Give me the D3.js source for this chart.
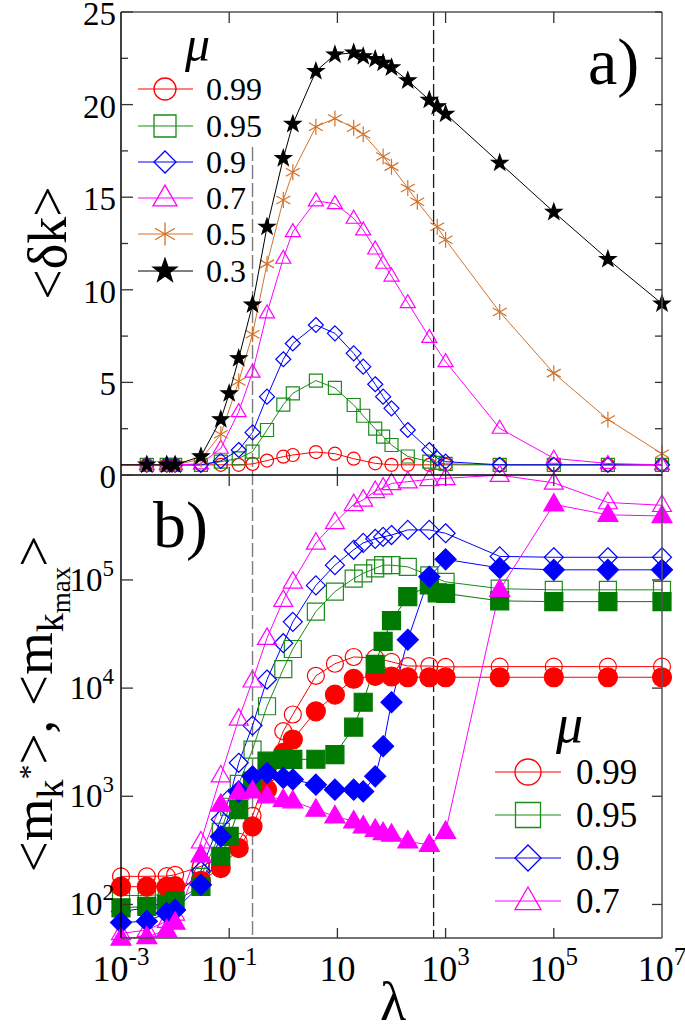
<!DOCTYPE html>
<html>
<head>
<meta charset="utf-8">
<script src="https://cdn.jsdelivr.net/npm/d3@7"></script>
<style>
  html, body { margin: 0; padding: 0; background: #fff; }
  svg { display: block; }
  svg text { font-family: "Liberation Serif", "Times New Roman", "DejaVu Serif", serif; }
</style>
</head>
<body>
<svg id="chart" width="685" height="1031"></svg>
<script>
// ---------------- DATA ----------------
const lambda = [0.001, 0.003, 0.007, 0.01, 0.03, 0.07, 0.1, 0.15, 0.27, 0.5, 1, 1.5, 4, 9, 20, 30, 50, 70, 100, 200, 300, 500, 700, 1000, 1e4, 1e5, 1e6, 1e7];

// panel a) <δk>
const muTop = ["0.99", "0.95", "0.9", "0.7", "0.5", "0.3"];
const dk099 = [0.55,0.55,0.55,0.55,0.55,0.55,null,0.55,0.6,0.78,0.99,1.08,1.24,1.15,0.88,null,0.63,null,0.55,0.55,null,0.55,null,0.55,0.55,0.55,0.55,0.55];
const dk095 = [0.55,0.55,0.55,0.55,0.55,0.72,null,0.9,1.26,2.43,3.8,4.41,5.1,4.7,3.78,3.2,2.5,2.07,1.62,1.0,null,0.72,0.65,0.6,0.55,0.55,0.55,0.55];
const dk09  = [0.55,0.55,0.55,0.55,0.55,0.76,null,1.35,2.3,4.23,6.25,7.1,8.1,7.65,6.57,5.85,4.9,4.23,3.6,2.43,null,1.35,0.9,0.72,0.55,0.55,0.55,0.55];
const dk07  = [0.55,0.55,0.55,0.55,0.6,1.44,null,3.42,5.55,8.75,11.7,13.14,14.8,14.65,13.86,13.23,12.2,11.43,10.74,9.3,null,7.43,null,6.12,2.52,0.9,0.62,0.55];
const dk05  = [0.55,0.55,0.55,0.55,0.85,2.2,null,5.05,7.6,11.4,14.85,16.35,18.8,19.25,18.75,18.4,null,17.2,16.65,15.5,14.76,null,13.4,12.7,8.8,5.5,3.0,1.15];
const dk03  = [0.55,0.55,0.55,0.55,1.0,3.0,4.4,6.3,9.2,13.4,17.1,18.95,21.8,22.7,22.8,22.6,22.45,22.25,22.0,21.3,null,20.25,19.9,19.5,16.85,14.2,11.65,9.25];

// panel b) <m_kmax> (open) and <m_k*> (filled)
const muBottom = ["0.99", "0.95", "0.9", "0.7"];
const mmax099  = [182,182,183,188,225,270,null,380,660,1600,4000,5700,13000,16800,19400,null,19000,null,17500,16000,null,16000,null,15700,15800,15800,15800,15800];
const mstar099 = [146,146,146,148,165,217,null,332,527,1150,2520,3350,6100,8700,12200,null,13000,null,12800,12600,null,12600,null,12600,12600,12600,12600,12600];
const mmax095  = [121,121,124,131,180,470,800,1300,2700,6800,15000,23000,51000,78000,103000,115000,128000,137000,137000,132000,null,110000,null,96000,83000,81000,81000,81000];
const mstar095 = [93,96,100,108,147,278,426,753,1380,2110,2190,2190,2200,2430,4350,7400,16600,27000,42000,70000,null,90000,76000,75000,64000,63000,63000,63000];
const mmax09   = [86,93,108,116,205,610,950,2040,4500,12000,26000,41000,89000,137000,190000,220000,240000,250000,260000,290000,null,290000,null,270000,165000,162000,162000,162000];
const mstar09  = [68,70,83,89,152,426,null,1110,1530,1640,1480,1430,1280,1150,1150,1110,1530,2900,7400,28000,null,107000,null,155000,129000,124000,124000,124000];
const mmax07   = [54,58,70,82,380,1550,null,5200,11700,29000,65000,96000,220000,340000,500000,550000,660000,710000,780000,810000,null,850000,null,870000,930000,790000,520000,490000];
const mstar07  = [48.5,50,58,68,285,838,null,1080,1110,1000,930,900,753,653,587,527,490,458,442,383,null,355,null,470,81000,500000,400000,390000];

const dashedLambda = [0.27, 600];
const xTicks = [1e-3, 1e-1, 1e1, 1e3, 1e5, 1e7];
const xTickLabels = [["10","-3"], ["10","-1"], ["10",""], ["10","3"], ["10","5"], ["10","7"]];
const yTopTicks = [0, 5, 10, 15, 20, 25];
const yTopMinor = [2.5, 7.5, 12.5, 17.5, 22.5];
const yBotTicks = [1e2, 1e3, 1e4, 1e5];
const yBotTickLabels = [["10","2"], ["10","3"], ["10","4"], ["10","5"]];

// ---------------- LAYOUT ----------------
const svg = d3.select("#chart");
const L = 121, R = 662, T = 12, M = 475, B = 938;
const x = d3.scaleLog().domain([1e-3, 1e7]).range([L, R]);
const yTop = d3.scaleLinear().domain([0, 25]).range([M, T]);
const yBot = d3.scaleLog().domain([Math.pow(10, 1.69), Math.pow(10, 5.97)]).range([B, M]);

const C = { red: "#ff0000", green: "#1a8c1a", dgreen: "#007a00", blue: "#0000ff", mag: "#ff00ff", orange: "#d2722a", black: "#000" };

function sym(type, r) {
  const c30 = Math.cos(Math.PI / 6);
  switch (type) {
    case "circle": return `M${r},0A${r},${r} 0 1,1 ${-r},0A${r},${r} 0 1,1 ${r},0Z`;
    case "square": return `M${-r},${-r}H${r}V${r}H${-r}Z`;
    case "diamond": return `M0,${-r}L${r},0L0,${r}L${-r},0Z`;
    case "triangle": { const h = r * Math.sqrt(3); return `M0,${-h * 0.62}L${r},${h * 0.38}L${-r},${h * 0.38}Z`; }
    case "asterisk": return `M0,${-r}L0,${r}M${-r * c30},${-r / 2}L${r * c30},${r / 2}M${-r * c30},${r / 2}L${r * c30},${-r / 2}`;
    case "star": {
      let p = "";
      for (let i = 0; i < 10; i++) {
        const a = -Math.PI / 2 + i * Math.PI / 5;
        const rr = i % 2 === 0 ? r : r * 0.4;
        p += (i === 0 ? "M" : "L") + (rr * Math.cos(a)).toFixed(2) + "," + (rr * Math.sin(a)).toFixed(2);
      }
      return p + "Z";
    }
  }
}
function txt(g) { return g.append("text").attr("fill", "#000"); }

// ---------------- DASHED GUIDES ----------------
svg.append("line").attr("x1", x(dashedLambda[0])).attr("x2", x(dashedLambda[0]))
  .attr("y1", 147).attr("y2", B).attr("stroke", "#7a7a7a").attr("stroke-width", 1.4).attr("stroke-dasharray", "14,4");
svg.append("line").attr("x1", x(dashedLambda[1])).attr("x2", x(dashedLambda[1]))
  .attr("y1", T).attr("y2", B).attr("stroke", "#1a1a1a").attr("stroke-width", 1.3).attr("stroke-dasharray", "14,4");

// ---------------- PANEL A ----------------
const topSeries = [
  { vals: dk099, color: C.red, type: "circle", r: 6.5, fill: "none" },
  { vals: dk095, color: C.green, type: "square", r: 6.5, fill: "none" },
  { vals: dk09, color: C.blue, type: "diamond", r: 7.5, fill: "none" },
  { vals: dk07, color: C.mag, type: "triangle", r: 7.5, fill: "none" },
  { vals: dk05, color: C.orange, type: "asterisk", r: 8, fill: "none" },
  { vals: dk03, color: C.black, type: "star", r: 8.5, fill: C.black }
];
const topLegendR = [11, 11, 11, 12, 11.5, 12.5];

const gA = svg.append("g");
const lineTop = d3.line().x(d => x(d.x)).y(d => yTop(d.y));
topSeries.forEach(s => {
  const pts = lambda.map((l, i) => ({ x: l, y: s.vals[i] })).filter(d => d.y != null);
  gA.append("path").attr("d", lineTop(pts)).attr("fill", "none").attr("stroke", s.color).attr("stroke-width", 1);
  gA.selectAll(null).data(pts.filter(d => d.x > 1e-3)).enter().append("path")
    .attr("d", sym(s.type, s.r)).attr("transform", d => `translate(${x(d.x)},${yTop(d.y)})`)
    .attr("fill", s.fill).attr("stroke", s.color).attr("stroke-width", 1.2);
});

// ---------------- PANEL B ----------------
const botSeries = [
  { vals: mmax099, color: C.red, type: "circle", r: 8.5, fill: "none" },
  { vals: mmax095, color: C.green, type: "square", r: 8.5, fill: "none" },
  { vals: mmax09, color: C.blue, type: "diamond", r: 9.5, fill: "none" },
  { vals: mmax07, color: C.mag, type: "triangle", r: 9.5, fill: "none" },
  { vals: mstar099, color: C.red, type: "circle", r: 9.5, fill: C.red },
  { vals: mstar095, color: C.dgreen, type: "square", r: 9, fill: C.dgreen },
  { vals: mstar09, color: C.blue, type: "diamond", r: 10.5, fill: C.blue },
  { vals: mstar07, color: C.mag, type: "triangle", r: 10, fill: C.mag }
];
const gB = svg.append("g");
const lineBot = d3.line().x(d => x(d.x)).y(d => yBot(d.y));
botSeries.forEach(s => {
  const pts = lambda.map((l, i) => ({ x: l, y: s.vals[i] })).filter(d => d.y != null);
  gB.append("path").attr("d", lineBot(pts)).attr("fill", "none").attr("stroke", s.color).attr("stroke-width", 1);
});
botSeries.forEach(s => {
  const pts = lambda.map((l, i) => ({ x: l, y: s.vals[i] })).filter(d => d.y != null);
  gB.selectAll(null).data(pts).enter().append("path")
    .attr("d", sym(s.type, s.r)).attr("transform", d => `translate(${x(d.x)},${yBot(d.y)})`)
    .attr("fill", s.fill).attr("stroke", s.color).attr("stroke-width", 1.2);
});

// ---------------- FRAMES & TICKS ----------------
const ax = svg.append("g").attr("stroke-width", 1.5);
ax.append("line").attr("x1", L).attr("x2", R).attr("y1", T).attr("y2", T).attr("stroke", "#555");
ax.append("line").attr("x1", R).attr("x2", R).attr("y1", T).attr("y2", B).attr("stroke", "#555");
ax.append("line").attr("x1", L).attr("x2", R).attr("y1", B).attr("y2", B).attr("stroke", "#444");
ax.append("line").attr("x1", L).attr("x2", R).attr("y1", M).attr("y2", M).attr("stroke", "#000");
ax.append("line").attr("x1", L).attr("x2", L).attr("y1", T).attr("y2", B).attr("stroke", "#000");

const tk = svg.append("g").attr("stroke", "#333").attr("stroke-width", 1.3);
xTicks.slice(1, -1).forEach(v => {
  const xp = x(v);
  tk.append("line").attr("x1", xp).attr("x2", xp).attr("y1", T).attr("y2", T + 11);
  tk.append("line").attr("x1", xp).attr("x2", xp).attr("y1", M - 8).attr("y2", M + 11);
  tk.append("line").attr("x1", xp).attr("x2", xp).attr("y1", B).attr("y2", B - 10);
});
yTopTicks.forEach(v => {
  tk.append("line").attr("x1", L).attr("x2", L + 12).attr("y1", yTop(v)).attr("y2", yTop(v));
  tk.append("line").attr("x1", R).attr("x2", R - 7).attr("y1", yTop(v)).attr("y2", yTop(v));
});
yTopMinor.forEach(v => {
  tk.append("line").attr("x1", L).attr("x2", L + 7).attr("y1", yTop(v)).attr("y2", yTop(v));
  tk.append("line").attr("x1", R).attr("x2", R - 7).attr("y1", yTop(v)).attr("y2", yTop(v));
});
yBotTicks.forEach(v => {
  tk.append("line").attr("x1", L).attr("x2", L + 12).attr("y1", yBot(v)).attr("y2", yBot(v));
  tk.append("line").attr("x1", R).attr("x2", R - 10).attr("y1", yBot(v)).attr("y2", yBot(v));
});

// tick labels
const labels = svg.append("g");
xTicks.forEach((v, i) => {
  const t = txt(labels).attr("x", x(v)).attr("y", 981).attr("text-anchor", "middle").attr("font-size", 36);
  t.append("tspan").text(xTickLabels[i][0]);
  if (xTickLabels[i][1]) t.append("tspan").attr("font-size", 25).attr("dy", -16).text(xTickLabels[i][1]);
});
yTopTicks.forEach(v => {
  txt(labels).attr("x", 116).attr("y", yTop(v) + 13).attr("text-anchor", "end").attr("font-size", 33).text(v);
});
yBotTicks.forEach((v, i) => {
  const t = txt(labels).attr("x", 114).attr("y", yBot(v) + 11).attr("text-anchor", "end").attr("font-size", 33);
  t.append("tspan").text(yBotTickLabels[i][0]);
  t.append("tspan").attr("font-size", 23).attr("dy", -15).text(yBotTickLabels[i][1]);
});

// axis titles
txt(labels).attr("transform", "translate(66,243) rotate(-90)").attr("text-anchor", "middle")
  .attr("font-size", 54).text("<δk>");
const yt = txt(labels).attr("transform", "translate(52,704) rotate(-90)").attr("text-anchor", "middle").attr("font-size", 55);
yt.append("tspan").text("<m");
yt.append("tspan").attr("font-size", 38).attr("dy", 11).text("k");
yt.append("tspan").attr("font-size", 30).attr("dy", -24).text("*");
yt.append("tspan").attr("dy", 13).text(">, <m");
yt.append("tspan").attr("font-size", 38).attr("dy", 11).text("k");
yt.append("tspan").attr("font-size", 27).attr("dy", 7).text("max");
yt.append("tspan").attr("dy", -18).text(">");
txt(labels).attr("x", 393).attr("y", 1020).attr("text-anchor", "middle").attr("font-size", 54).text("λ");

// panel labels
txt(labels).attr("x", 588).attr("y", 84).attr("font-size", 66).text("a)");
txt(labels).attr("x", 153).attr("y", 547).attr("font-size", 66).text("b)");

// ---------------- LEGENDS ----------------
const legA = svg.append("g");
txt(legA).attr("x", 185).attr("y", 61).attr("font-size", 50).attr("font-style", "italic").text("μ");
const topRows = [89, 126, 162, 198, 234, 271];
topSeries.forEach((s, i) => {
  const yy = topRows[i];
  legA.append("line").attr("x1", 138).attr("x2", 193).attr("y1", yy).attr("y2", yy).attr("stroke", s.color).attr("stroke-width", 1);
  legA.append("path").attr("d", sym(s.type, topLegendR[i])).attr("transform", `translate(165,${yy})`)
    .attr("fill", s.fill).attr("stroke", s.color).attr("stroke-width", 1.3);
  txt(legA).attr("x", 206).attr("y", yy + 11).attr("font-size", 32).text(muTop[i]);
});

const legB = svg.append("g");
txt(legB).attr("x", 556).attr("y", 742).attr("font-size", 54).attr("font-style", "italic").text("μ");
const botRows = [772, 815, 858, 901];
const botLegendR = [13, 12.5, 13, 13];
botSeries.slice(0, 4).forEach((s, i) => {
  const yy = botRows[i];
  legB.append("line").attr("x1", 495).attr("x2", 561).attr("y1", yy).attr("y2", yy).attr("stroke", s.color).attr("stroke-width", 1);
  legB.append("path").attr("d", sym(s.type, botLegendR[i])).attr("transform", `translate(528,${yy})`)
    .attr("fill", "none").attr("stroke", s.color).attr("stroke-width", 1.3);
  txt(legB).attr("x", 576).attr("y", yy + 12).attr("font-size", 35).text(muBottom[i]);
});
</script>
</body>
</html>
